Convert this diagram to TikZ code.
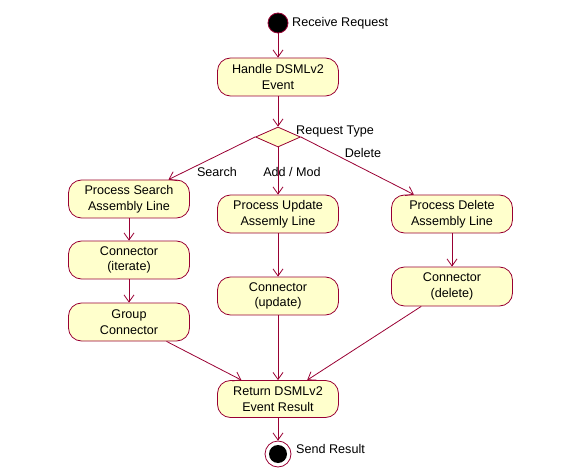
\documentclass[tikz,border=0pt]{standalone}
\usepackage{fontspec}
\setmainfont{Liberation Sans}
\usetikzlibrary{arrows.meta,shapes.geometric,calc}
\definecolor{umlline}{HTML}{990033}
\definecolor{umlfill}{HTML}{FFFFCC}
\begin{document}
\begin{tikzpicture}[x=1pt,y=-1pt,
  every node/.style={font=\fontsize{12.6}{15.5}\selectfont},
  act/.style={draw=umlline, fill=umlfill, line width=0.8pt, rounded corners=13pt,
    minimum width=121pt, minimum height=38pt, align=center, inner sep=1pt},
  flow/.style={draw=umlline, line width=0.8pt, -{Straight Barb[length=7pt,width=10pt]}},
  lbl/.style={inner sep=0pt}]
\useasboundingbox (0,0) rectangle (568,468);
\node[circle, fill=black, draw=umlline, line width=0.8pt, minimum size=20pt, inner sep=0] (start) at (278,23) {};
\node[lbl, anchor=west] (startlbl) at (292,23) {Receive Request};
\node[act] (handle) at (278,77) {Handle DSMLv2\\Event};
\node[diamond, draw=umlline, fill=umlfill, line width=0.8pt, minimum width=45pt, minimum height=20pt, inner sep=0] (dia) at (278,137) {};
\node[lbl, anchor=west] (dialbl) at (296,131) {Request Type};
\node[act] (ps) at (129,199) {Process Search\\Assembly Line};
\node[act] (ci) at (129,260) {Connector\\(iterate)};
\node[act] (gc) at (129,322) {Group\\Connector};
\node[act] (pu) at (278,214) {Process Update\\Assemly Line};
\node[act] (cu) at (278,296) {Connector\\(update)};
\node[act] (pd) at (452,214) {Process Delete\\Assembly Line};
\node[act, minimum height=39pt] (cd) at (452,286.5) {Connector\\(delete)};
\node[act, minimum height=37pt] (ret) at (278,399) {Return DSMLv2\\Event Result};
\node[circle, draw=umlline, fill=white, line width=0.8pt, minimum size=26pt, inner sep=0] (endo) at (278,454) {};
\node[circle, fill=black, minimum size=18pt, inner sep=0] (endi) at (278,454) {};
\node[lbl, anchor=west] (endlbl) at (296,449) {Send Result};
\draw[flow] (start) -- (handle);
\draw[flow] (handle) -- (dia);
\draw[flow] (dia.west) -- (ps);
\node[lbl] (srchlbl) at (217,172) {Search};
\draw[flow] (dia.south) -- (pu);
\node[lbl] (addlbl) at (292,172) {Add / Mod};
\draw[flow] (dia.east) -- (pd);
\node[lbl] (dellbl) at (363,153) {Delete};
\draw[flow] (ps) -- (ci);
\draw[flow] (ci) -- (gc);
\draw[flow] (pu) -- (cu);
\draw[flow] (pd) -- (cd);
\draw[flow] (gc) -- (ret);
\draw[flow] (cu) -- (ret);
\draw[flow] (cd) -- (ret);
\draw[flow] (ret) -- (endo);
\end{tikzpicture}
\end{document}
